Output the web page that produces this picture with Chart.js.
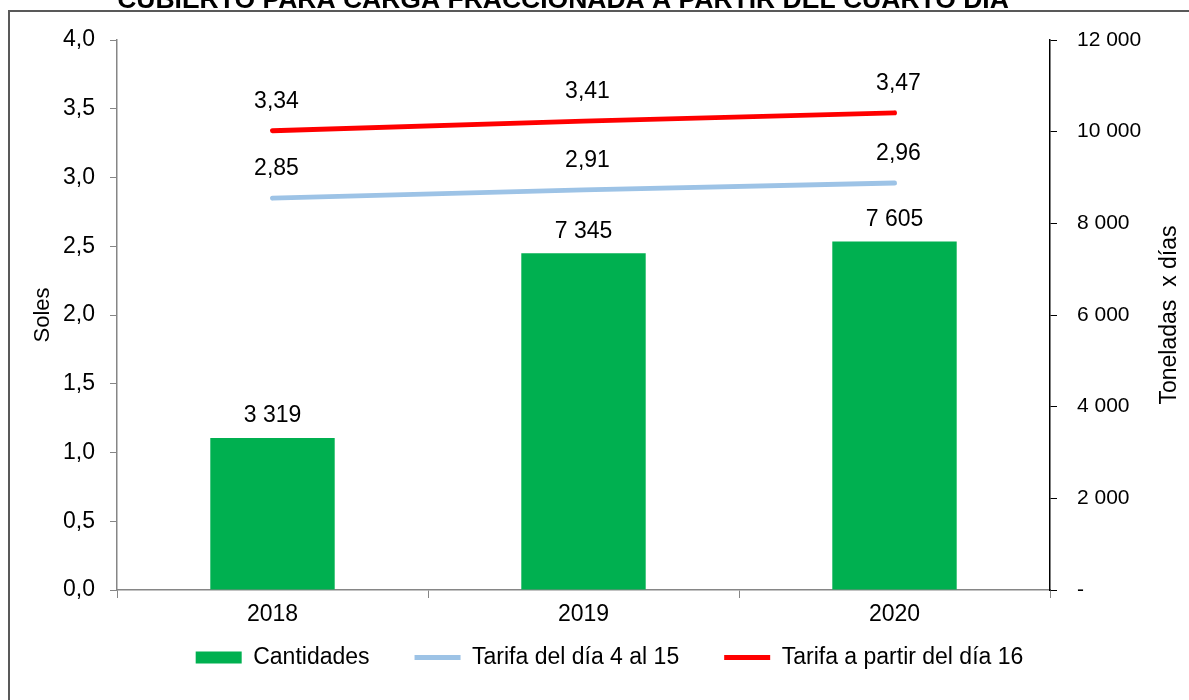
<!DOCTYPE html>
<html>
<head>
<meta charset="utf-8">
<script src="https://cdn.jsdelivr.net/npm/chart.js@4.4.0/dist/chart.umd.min.js"></script>
<style>
  html, body { margin: 0; padding: 0; background: #fff; }
  #wrap { width: 1189px; height: 700px; }
</style>
</head>
<body>
<div id="wrap"><canvas id="grafico" width="1189" height="700"></canvas></div>
<script>
// datos
var anios = ['2018', '2019', '2020'];
var cantidades = [3319, 7345, 7605];
var tarifaDia4al15 = [2.85, 2.91, 2.96];
var tarifaDia16 = [3.34, 3.41, 3.47];

var tituloCortado = 'CUBIERTO PARA CARGA FRACCIONADA A PARTIR DEL CUARTO DÍA';
var fuente = '"Liberation Sans", Arial, sans-serif';

function coma(v, d) {
  return Number(v).toFixed(d).replace('.', ',');
}
function miles(v) {
  if (v === 0) return '-';
  return String(v).replace(/\B(?=(\d{3})+(?!\d))/g, ' ');
}

// marco, titulo cortado y titulo del eje derecho
var marco = {
  id: 'marco',
  afterLayout: function (chart) {
    // subir la leyenda (solo el borde superior, para no recortarla)
    chart.legend.top -= 36;
  },
  beforeDraw: function (chart) {
    var c = chart.ctx;
    c.save();
    c.fillStyle = '#fff';
    c.fillRect(0, 0, chart.width, chart.height);
    c.strokeStyle = '#595959';
    c.lineWidth = 2;
    c.beginPath();
    c.moveTo(9, 700);
    c.lineTo(9, 11);
    c.lineTo(1189, 11);
    c.stroke();
    c.fillStyle = '#000';
    c.font = 'bold 26.5px ' + fuente;
    c.textAlign = 'center';
    c.textBaseline = 'alphabetic';
    c.fillText(tituloCortado, 563, 8);
    c.restore();
  },
  afterDraw: function (chart) {
    var c = chart.ctx;
    var y = chart.chartArea.top + (chart.chartArea.bottom - chart.chartArea.top) / 2;
    c.save();
    c.translate(1170, y);
    c.rotate(-Math.PI / 2);
    c.font = '23px ' + fuente;
    c.fillStyle = '#000';
    c.textAlign = 'center';
    c.textBaseline = 'middle';
    c.fillText('Toneladas  x días', 0, 0);
    c.restore();
  }
};

// etiquetas de datos encima de barras y lineas
var etiquetas = {
  id: 'etiquetas',
  afterDatasetsDraw: function (chart) {
    var c = chart.ctx;
    c.save();
    c.font = '23px ' + fuente;
    c.fillStyle = '#000';
    c.textAlign = 'center';
    c.textBaseline = 'middle';
    chart.data.datasets.forEach(function (ds, i) {
      var meta = chart.getDatasetMeta(i);
      meta.data.forEach(function (el, j) {
        if (ds.type === 'bar') {
          c.fillText(miles(ds.data[j]), el.x, el.y - 22);
        } else {
          c.fillText(coma(ds.data[j], 2), el.x + 4, el.y - 29);
        }
      });
    });
    c.restore();
  }
};

var ctx = document.getElementById('grafico').getContext('2d');
var grafico = new Chart(ctx, {
  data: {
    labels: anios,
    datasets: [
      {
        type: 'line',
        label: 'Tarifa del día 4 al 15',
        data: tarifaDia4al15,
        yAxisID: 'y',
        borderColor: '#9DC3E6',
        backgroundColor: '#9DC3E6',
        borderWidth: 5,
        borderCapStyle: 'round',
        pointRadius: 0,
        pointStyle: 'line',
        order: 1
      },
      {
        type: 'line',
        label: 'Tarifa a partir del día 16',
        data: tarifaDia16,
        yAxisID: 'y',
        borderColor: '#FF0000',
        backgroundColor: '#FF0000',
        borderWidth: 5,
        borderCapStyle: 'round',
        pointRadius: 0,
        pointStyle: 'line',
        order: 0
      },
      {
        type: 'bar',
        label: 'Cantidades',
        data: cantidades,
        yAxisID: 'y1',
        backgroundColor: '#00B050',
        borderWidth: 0,
        pointStyle: 'rect',
        barPercentage: 0.4,
        categoryPercentage: 1,
        order: 2
      }
    ]
  },
  options: {
    responsive: false,
    animation: false,
    events: [],
    layout: { padding: { left: 30, right: 0, top: 40, bottom: 21 } },
    plugins: {
      tooltip: { enabled: false },
      legend: {
        position: 'bottom',
        maxHeight: 42,
        labels: {
          usePointStyle: true,
          pointStyleWidth: 46,
          boxHeight: 12,
          padding: 45,
          color: '#000',
          font: { family: fuente, size: 23 },
          sort: function (a, b) {
            var orden = { 'Cantidades': 0, 'Tarifa del día 4 al 15': 1, 'Tarifa a partir del día 16': 2 };
            return orden[a.text] - orden[b.text];
          }
        }
      }
    },
    scales: {
      x: {
        afterFit: function (s) { s.height = 47; },
        border: { color: '#868686', width: 1.5 },
        grid: { drawOnChartArea: false, tickLength: 8, tickColor: '#868686', offset: true },
        ticks: { color: '#000', padding: 3, font: { family: fuente, size: 23 } }
      },
      y: {
        position: 'left',
        min: 0,
        max: 4,
        afterFit: function (s) { s.width = 87; },
        border: { color: '#868686', width: 1.5 },
        grid: { drawOnChartArea: false, tickLength: 7, tickColor: '#868686' },
        ticks: {
          stepSize: 0.5,
          color: '#000',
          padding: 15,
          font: { family: fuente, size: 23 },
          callback: function (v) { return coma(v, 1); }
        },
        title: {
          display: true,
          text: 'Soles',
          color: '#000',
          padding: { top: 0, bottom: 0 },
          font: { family: fuente, size: 22 }
        }
      },
      y1: {
        position: 'right',
        min: 0,
        max: 12000,
        afterFit: function (s) { s.width = 139; },
        border: { color: '#000', width: 1.5 },
        grid: { drawOnChartArea: false, tickLength: 7, tickColor: '#000' },
        ticks: {
          stepSize: 2000,
          color: '#000',
          padding: 20,
          font: { family: fuente, size: 21 },
          callback: function (v) { return miles(v); }
        }
      }
    }
  },
  plugins: [marco, etiquetas]
});
</script>
</body>
</html>
